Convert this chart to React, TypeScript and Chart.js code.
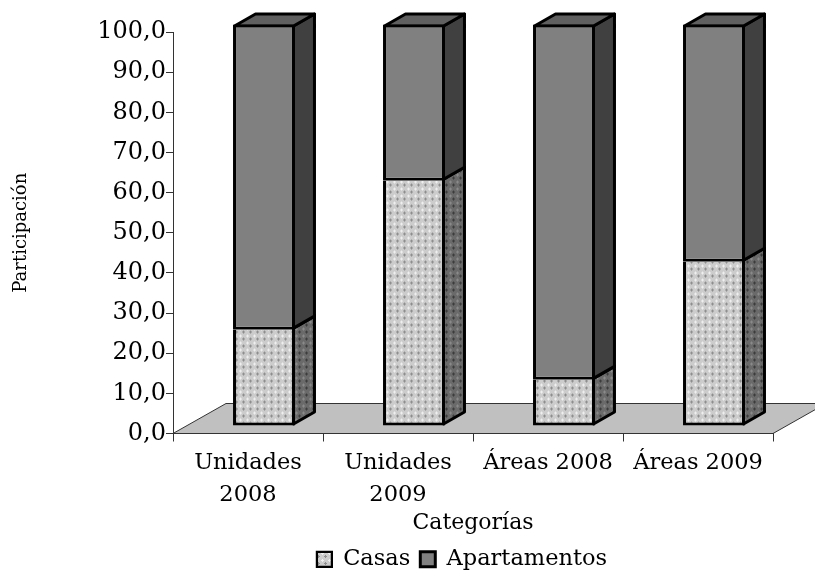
import React, { useEffect, useRef } from "react";
import { Chart, registerables } from "chart.js";

Chart.register(...registerables);

const categories = [["Unidades", "2008"], ["Unidades", "2009"], "Áreas 2008", "Áreas 2009"];
const casas = [24, 61.1, 11.5, 40.9];
const apartamentos = [76, 38.9, 88.5, 59.1];
const FONT = "'DejaVu Serif', serif";

function pattern(bg: string, fg: string, hi: string) {
  const cv = document.createElement("canvas");
  cv.width = 7;
  cv.height = 7;
  const c = cv.getContext("2d")!;
  c.fillStyle = bg;
  c.fillRect(0, 0, 7, 7);
  c.fillStyle = fg;
  c.fillRect(2, 3, 3, 1);
  c.fillRect(3, 2, 1, 3);
  c.fillStyle = hi;
  c.fillRect(0, 0, 1, 1);
  c.fillRect(6, 0, 1, 1);
  c.fillRect(0, 6, 1, 1);
  c.fillRect(1, 0, 1, 1);
  c.fillRect(0, 1, 1, 1);
  return document.createElement("canvas").getContext("2d")!.createPattern(cv, "repeat")!;
}

const DX = 21;
const DY = -12;
const FX = 53;
const FY = -30;
const SHIFT_X = 16;
const SHIFT_Y = -7.5;

const bar3d = {
  id: "bar3d",
  beforeDraw(chart: any) {
    const { ctx, chartArea: a } = chart;
    const y0 = chart.scales.y.getPixelForValue(0);
    ctx.save();
    ctx.beginPath();
    ctx.moveTo(a.left, y0);
    ctx.lineTo(a.right, y0);
    ctx.lineTo(a.right + FX, y0 + FY);
    ctx.lineTo(a.left + FX, y0 + FY);
    ctx.closePath();
    ctx.fillStyle = "#c0c0c0";
    ctx.fill();
    ctx.lineWidth = 1;
    ctx.strokeStyle = "#333333";
    ctx.stroke();
    ctx.restore();
  },
  beforeDatasetsDraw(chart: any) {
    const { ctx } = chart;
    ctx.save();
    ctx.translate(SHIFT_X, SHIFT_Y);
    const sides = [chart.$sideCasas, "#404040"];
    chart.data.datasets.forEach((_: any, i: number) => {
      chart.getDatasetMeta(i).data.forEach((b: any) => {
        const r = b.x + b.width / 2 - 1.5;
        const l = b.x - b.width / 2 + 1.5;
        const top = i === 0 ? b.y - 1.5 : b.y + 1.5;
        const bot = b.base - 1.5;
        ctx.lineWidth = 3;
        ctx.lineJoin = "round";
        ctx.strokeStyle = "#000";
        ctx.beginPath();
        ctx.moveTo(r, top);
        ctx.lineTo(r + DX, top + DY);
        ctx.lineTo(r + DX, bot + DY);
        ctx.lineTo(r, bot);
        ctx.closePath();
        ctx.fillStyle = sides[i];
        ctx.fill();
        ctx.stroke();
        if (i === 1) {
          ctx.beginPath();
          ctx.moveTo(l, top);
          ctx.lineTo(l + DX, top + DY);
          ctx.lineTo(r + DX, top + DY);
          ctx.lineTo(r, top);
          ctx.closePath();
          ctx.fillStyle = "#606060";
          ctx.fill();
          ctx.stroke();
        }
      });
    });
    ctx.restore();
    ctx.save();
    ctx.translate(SHIFT_X, SHIFT_Y);
  },
  afterDatasetsDraw(chart: any) {
    chart.ctx.restore();
  },
  afterLayout(chart: any) {
    const lg = chart.legend;
    if (lg) {
      lg.left -= 11;
      lg.right -= 11;
      lg.top += 8.5;
      lg.bottom += 8.5;
    }
  },
};

export default function App() {
  const ref = useRef<HTMLCanvasElement>(null);
  useEffect(() => {
    document.body.style.margin = "0";
    const light = pattern("#cccccc", "#8e8e8e", "#efefef");
    const dark = pattern("#6a6a6a", "#3c3c3c", "#8a8a8a");
    const chart: any = new Chart(ref.current!, {
      type: "bar",
      data: {
        labels: categories as any,
        datasets: [
          { label: "Casas", data: casas, backgroundColor: light, borderColor: "#000", borderWidth: { left: 3, right: 3, bottom: 3, top: 0 }, borderSkipped: false, clip: false as any },
          { label: "Apartamentos", data: apartamentos, backgroundColor: "#808080", borderColor: "#000", borderWidth: 3, borderSkipped: false, clip: false as any },
        ],
      },
      options: {
        responsive: false,
        animation: false,
        layout: { padding: { left: 0, right: 42, top: 32, bottom: 0 } },
        datasets: { bar: { barPercentage: 0.413, categoryPercentage: 1 } },
        scales: {
          x: {
            stacked: true,
            border: { color: "#333333", width: 1 },
            grid: { drawOnChartArea: false, tickLength: 8, tickColor: "#333333" },
            ticks: { color: "#000", font: { family: FONT, size: 22.5, lineHeight: 1.4 }, maxRotation: 0, autoSkip: false, padding: 6 },
            title: { display: true, text: "Categorías", color: "#000", font: { family: FONT, size: 22 }, padding: { top: 0, bottom: -7 } },
            afterFit(s: any) {
              s.height = 96;
            },
          },
          y: {
            stacked: true,
            min: 0,
            max: 100,
            border: { color: "#333333", width: 1 },
            grid: { drawOnChartArea: false, tickLength: 7, tickColor: "#333333" },
            ticks: { stepSize: 10, color: "#000", font: { family: FONT, size: 24 }, padding: 0, callback: (v: any) => Number(v).toFixed(1).replace(".", ",") },
            title: { display: true, text: "Participación", color: "#000", font: { family: FONT, size: 18 }, padding: { top: 11, bottom: 0 } },
            afterFit(s: any) {
              s.width = 173;
            },
          },
        },
        plugins: {
          tooltip: { enabled: false },
          legend: {
            position: "bottom",
            fullSize: false,
            labels: { color: "#000", font: { family: FONT, size: 22.5 }, boxWidth: 15, boxHeight: 15, padding: 10 },
          },
        },
      },
      plugins: [bar3d],
    });
    chart.$sideCasas = dark;
    chart.draw();
    return () => chart.destroy();
  }, []);
  return <canvas ref={ref} width={815} height={572} style={{ display: "block" }} />;
}
